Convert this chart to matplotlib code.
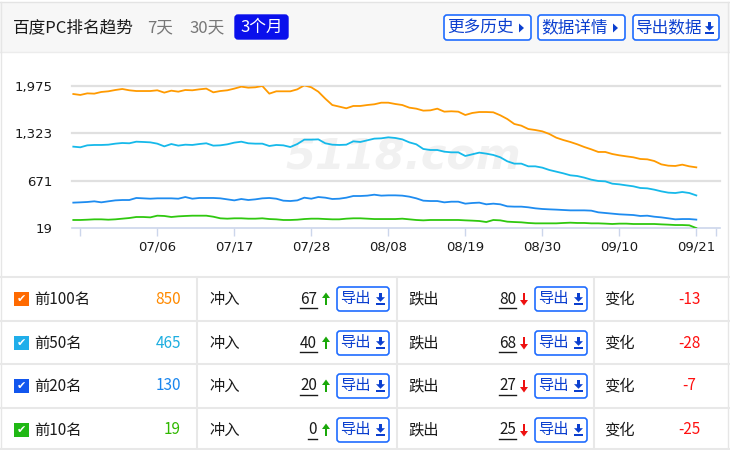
import numpy as np
import pandas as pd
import matplotlib
matplotlib.use("Agg")
import matplotlib.pyplot as plt
from matplotlib.patches import Rectangle, FancyBboxPatch, Polygon

plt.rcParams['font.family'] = ['Noto Sans CJK SC', 'DejaVu Sans']

# ---------------- data ----------------
dates = pd.date_range('2023-06-24', periods=90).strftime('%m/%d').tolist()

top100 = [1861, 1848, 1870, 1866, 1889, 1898, 1916, 1930, 1912, 1902,
          1902, 1902, 1912, 1880, 1907, 1893, 1916, 1912, 1925, 1935,
          1884, 1902, 1912, 1935, 1962, 1948, 1953, 1971, 1866, 1898,
          1898, 1898, 1925, 1980, 1953, 1893, 1797, 1710, 1688, 1665,
          1697, 1697, 1710, 1720, 1742, 1742, 1724, 1710, 1674, 1660,
          1633, 1637, 1660, 1619, 1624, 1619, 1573, 1601, 1614, 1614,
          1610, 1569, 1518, 1450, 1427, 1381, 1367, 1349, 1313, 1262,
          1230, 1203, 1171, 1134, 1102, 1066, 1066, 1038, 1020, 1006,
          993, 970, 965, 942, 896, 878, 874, 892, 869, 855]
top50 = [1139, 1130, 1157, 1162, 1162, 1166, 1180, 1189, 1185, 1207,
         1203, 1198, 1180, 1143, 1175, 1153, 1166, 1162, 1175, 1185,
         1153, 1157, 1171, 1194, 1207, 1185, 1180, 1180, 1148, 1162,
         1157, 1134, 1175, 1235, 1235, 1239, 1185, 1166, 1162, 1166,
         1212, 1203, 1226, 1249, 1253, 1267, 1258, 1239, 1198, 1171,
         1107, 1093, 1093, 1070, 1061, 1061, 1011, 1034, 1057, 1043,
         1025, 993, 938, 906, 906, 869, 869, 851, 819, 796,
         773, 746, 736, 714, 686, 668, 663, 631, 622, 608,
         595, 572, 567, 549, 526, 508, 503, 517, 503, 470]
top20 = [371, 375, 380, 389, 375, 389, 402, 407, 407, 435,
         430, 425, 430, 430, 430, 425, 448, 425, 435, 435,
         435, 430, 416, 402, 421, 407, 416, 430, 435, 425,
         398, 393, 402, 439, 425, 448, 439, 421, 425, 439,
         462, 462, 467, 480, 467, 471, 471, 467, 453, 430,
         398, 393, 393, 375, 384, 384, 357, 366, 371, 348,
         357, 348, 320, 316, 316, 307, 293, 284, 279, 275,
         270, 265, 265, 265, 261, 238, 229, 220, 211, 206,
         201, 188, 192, 178, 169, 156, 142, 146, 146, 138]
top10 = [133, 133, 137, 142, 142, 137, 142, 151, 160, 174,
         174, 169, 192, 188, 174, 183, 188, 192, 192, 192,
         178, 156, 151, 156, 156, 151, 151, 156, 146, 142,
         133, 133, 137, 146, 151, 151, 146, 142, 142, 151,
         156, 156, 151, 146, 146, 146, 146, 151, 142, 133,
         128, 133, 133, 133, 133, 133, 128, 124, 119, 105,
         133, 128, 110, 105, 101, 92, 87, 87, 87, 87,
         92, 96, 92, 92, 87, 87, 83, 78, 83, 83,
         78, 78, 78, 78, 73, 69, 64, 64, 60, 22]

y_ticks = [19, 671, 1323, 1975]
y_tick_labels = ['19', '671', '1,323', '1,975']
x_tick_idx = [1, 12, 23, 34, 45, 56, 67, 78, 89]

series_names = ['前100名', '前50名', '前20名', '前10名']
series_current = [850, 465, 130, 19]
series_in = [67, 40, 20, 0]
series_out = [80, 68, 27, 25]
series_change = [-13, -28, -7, -25]

line_colors = ['#ff9a00', '#16b9ea', '#1e8cf0', '#2fc80f']
value_colors = ['#ff8a00', '#1eaee0', '#1a86ee', '#30b800']
box_colors = ['#ff6a00', '#20aeea', '#1256ee', '#20b814']

# ---------------- figure ----------------
W, H = 730, 450
fig = plt.figure(figsize=(W / 100, H / 100), dpi=100)
fig.patch.set_facecolor('white')

bg = fig.add_axes([0, 0, 1, 1], zorder=0)
bg.set_xlim(0, W)
bg.set_ylim(H, 0)
bg.axis('off')

# header band
bg.add_patch(Rectangle((0, 2), W, 50, facecolor='#f7f7f7', edgecolor='none'))
bg.plot([0, W], [2, 2], color='#e4e4e4', lw=1)
bg.plot([0, W], [52, 52], color='#ececec', lw=1)
bg.plot([1, 1], [2, H], color='#e6e6e6', lw=1)
bg.plot([728, 728], [2, H], color='#e6e6e6', lw=1)

FS_H = 12
bg.text(13, 28, '百度PC排名趋势', fontsize=FS_H, color='#1a1a1a', va='center', ha='left')
bg.text(147, 28, '7天', fontsize=FS_H, color='#777777', va='center', ha='left')
bg.text(189, 28, '30天', fontsize=FS_H, color='#777777', va='center', ha='left')
bg.add_patch(FancyBboxPatch((235, 15), 53, 24, boxstyle='round,pad=0,rounding_size=3',
                            facecolor='#0a10ec', edgecolor='#0a10ec'))
bg.text(261.5, 27.5, '3个月', fontsize=FS_H, color='white', va='center', ha='center')

btn_text_col = '#0b3fcf'
btn_edge_col = '#1f6cff'


def tri_right(x, y):
    bg.add_patch(Polygon([(x, y - 4.5), (x, y + 4.5), (x + 5, y)], closed=True,
                         facecolor=btn_text_col, edgecolor='none'))


def dl_icon(x, y, col):
    # down arrow with bar; x is left, y center
    bg.add_patch(Rectangle((x + 3.2, y - 6), 2.6, 4.5, facecolor=col, edgecolor='none'))
    bg.add_patch(Polygon([(x, y - 1.8), (x + 9, y - 1.8), (x + 4.5, y + 2.8)], closed=True,
                         facecolor=col, edgecolor='none'))
    bg.add_patch(Rectangle((x, y + 4), 9, 2, facecolor=col, edgecolor='none'))


for (x0, x1, label, icon) in [(444, 531, '更多历史', 'tri'), (538, 625, '数据详情', 'tri'),
                              (633, 719, '导出数据', 'dl')]:
    bg.add_patch(FancyBboxPatch((x0, 15), x1 - x0, 25, boxstyle='round,pad=0,rounding_size=3',
                                facecolor='white', edgecolor=btn_edge_col, lw=1.2))
    bg.text(x0 + 3, 27.5, label, fontsize=FS_H, color=btn_text_col, va='center', ha='left')
    if icon == 'tri':
        tri_right(x1 - 12, 28)
    else:
        dl_icon(x1 - 14, 28, btn_text_col)

# watermark
bg.text(285, 158, '5118.com', fontsize=31, color='#f1f1f1', style='italic', weight='bold',
        family='DejaVu Sans', va='center', ha='left', zorder=0)

# ---------------- table ----------------
row_lines = [277, 321, 364, 408, 449]
for yl in row_lines:
    bg.plot([0, W], [yl, yl], color='#e8e8e8', lw=1.5)
for xl in [197, 397, 594]:
    bg.plot([xl, xl], [277, 449], color='#e8e8e8', lw=1.5)

row_centers = [299, 343, 386, 430]
FS_T = 11


def up_arrow(x, y, col):
    bg.add_patch(Polygon([(x, y - 1), (x + 8, y - 1), (x + 4, y - 6.5)], closed=True,
                         facecolor=col, edgecolor='none'))
    bg.add_patch(Rectangle((x + 2.6, y - 1.5), 2.8, 7.5, facecolor=col, edgecolor='none'))


def down_arrow(x, y, col):
    bg.add_patch(Polygon([(x, y + 1), (x + 8, y + 1), (x + 4, y + 6.5)], closed=True,
                         facecolor=col, edgecolor='none'))
    bg.add_patch(Rectangle((x + 2.6, y - 6), 2.8, 7.5, facecolor=col, edgecolor='none'))


def export_btn(x0, y):
    bg.add_patch(FancyBboxPatch((x0, y - 12), 52, 24, boxstyle='round,pad=0,rounding_size=3',
                                facecolor='white', edgecolor=btn_edge_col, lw=1.2))
    bg.text(x0 + 3, y - 0.5, '导出', fontsize=FS_T, color=btn_text_col, va='center', ha='left')
    dl_icon(x0 + 39, y, btn_text_col)


for k, yc in enumerate(row_centers):
    bg.add_patch(Rectangle((14, yc - 7.5), 14.5, 14.5, facecolor=box_colors[k], edgecolor='none'))
    bg.text(21.3, yc, '✔', fontsize=8, color='white', va='center', ha='center',
            family='DejaVu Sans', weight='bold')
    bg.text(34, yc, series_names[k], fontsize=FS_T, color='#1a1a1a', va='center', ha='left')
    bg.text(181, yc, str(series_current[k]), fontsize=FS_T, color=value_colors[k],
            va='center', ha='right')

    bg.text(209, yc, '冲入', fontsize=FS_T, color='#1a1a1a', va='center', ha='left')
    bg.text(317, yc, str(series_in[k]), fontsize=FS_T, color='#1a1a1a', va='center', ha='right')
    nw = 8.6 * len(str(series_in[k]))
    bg.plot([317 - nw, 317], [yc + 8.5, yc + 8.5], color='#1a1a1a', lw=1)
    up_arrow(322, yc, '#1aa80a')
    export_btn(337, yc)

    bg.text(408, yc, '跌出', fontsize=FS_T, color='#1a1a1a', va='center', ha='left')
    bg.text(516, yc, str(series_out[k]), fontsize=FS_T, color='#1a1a1a', va='center', ha='right')
    nw = 8.6 * len(str(series_out[k]))
    bg.plot([516 - nw, 516], [yc + 8.5, yc + 8.5], color='#1a1a1a', lw=1)
    down_arrow(520, yc, '#ee1111')
    export_btn(535, yc)

    bg.text(604, yc, '变化', fontsize=FS_T, color='#1a1a1a', va='center', ha='left')
    bg.text(689, yc, str(series_change[k]), fontsize=FS_T, color='#ff1010', va='center', ha='center')

# ---------------- chart ----------------
left_px, right_px, top_px, bot_px = 72, 720, 85.7, 228.3
ax = fig.add_axes([left_px / W, 1 - bot_px / H, (right_px - left_px) / W, (bot_px - top_px) / H],
                  zorder=2)
ax.set_facecolor('none')

x = np.arange(len(dates))
for vals, col in zip([top100, top50, top20, top10], line_colors):
    ax.plot(x, vals, color=col, lw=1.3, solid_joinstyle='round', zorder=3)

x0_px = 73.3
ax.set_xlim((left_px - x0_px) / 7.0, (right_px - x0_px) / 7.0)
ax.set_ylim(19, 1975)

ax.set_yticks(y_ticks)
ax.set_yticklabels(y_tick_labels, family='DejaVu Sans', fontsize=9.5, color='#1a1a1a')
ax.tick_params(axis='y', length=0, pad=14)
ax.set_xticks(x_tick_idx)
ax.set_xticklabels([''] + [dates[i] for i in x_tick_idx[1:]], family='DejaVu Sans',
                   fontsize=9.5, color='#1a1a1a')
ax.set_xticks([(716 - x0_px) / 7.0], minor=True)
ax.tick_params(axis='x', which='both', length=6, width=1, color='#ccd6eb', pad=3)

for yv in y_ticks[1:]:
    ax.axhline(yv, color='#e0e0e0', lw=1.6, zorder=1, clip_on=False)
for s in ['top', 'right', 'left']:
    ax.spines[s].set_visible(False)
ax.spines['bottom'].set_color('#ccd6eb')
ax.spines['bottom'].set_linewidth(1.2)

fig.savefig('out.png', dpi=100, facecolor='white')
